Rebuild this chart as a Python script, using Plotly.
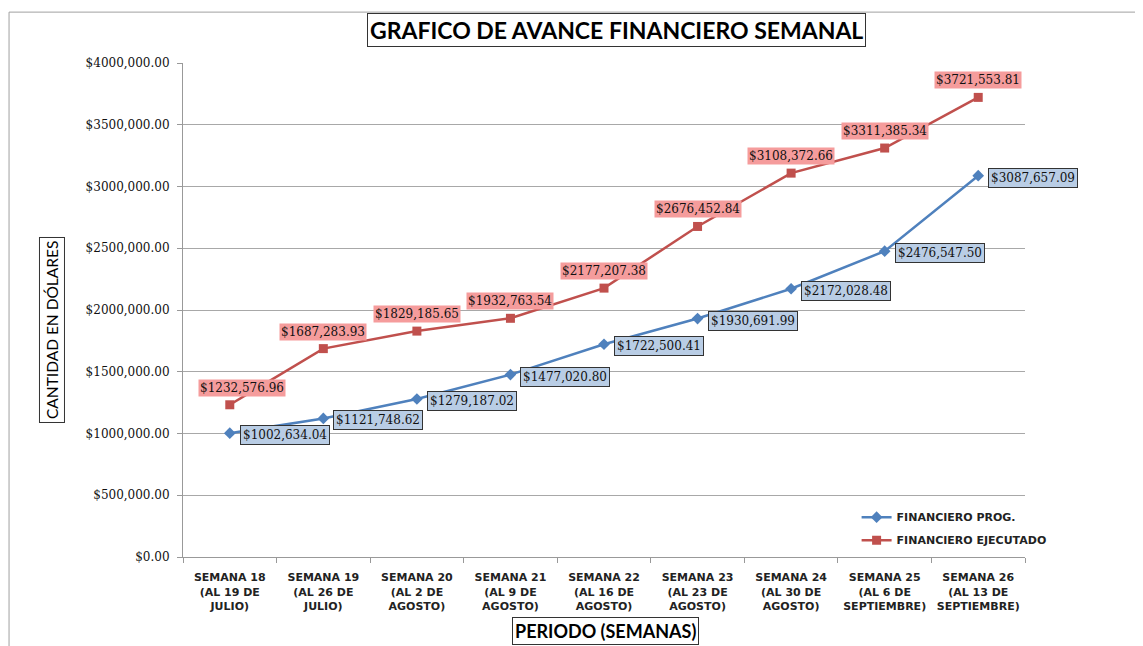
import plotly.graph_objects as go

categories = [
    "SEMANA 18<br>(AL 19 DE<br>JULIO)",
    "SEMANA 19<br>(AL 26 DE<br>JULIO)",
    "SEMANA 20<br>(AL 2 DE<br>AGOSTO)",
    "SEMANA 21<br>(AL 9 DE<br>AGOSTO)",
    "SEMANA 22<br>(AL 16 DE<br>AGOSTO)",
    "SEMANA 23<br>(AL 23 DE<br>AGOSTO)",
    "SEMANA 24<br>(AL 30 DE<br>AGOSTO)",
    "SEMANA 25<br>(AL 6 DE<br>SEPTIEMBRE)",
    "SEMANA 26<br>(AL 13 DE<br>SEPTIEMBRE)",
]
prog = [1002634.04, 1121748.62, 1279187.02, 1477020.80, 1722500.41,
        1930691.99, 2172028.48, 2476547.50, 3087657.09]
ejec = [1232576.96, 1687283.93, 1829185.65, 1932763.54, 2177207.38,
        2676452.84, 3108372.66, 3311385.34, 3721553.81]
y_ticks = [0, 500000, 1000000, 1500000, 2000000, 2500000, 3000000, 3500000, 4000000]


def money(v):
    cents = round(v * 100)
    whole, c = divmod(cents, 100)
    if whole >= 1000:
        return f"${whole // 1000},{whole % 1000:03d}.{c:02d}"
    return f"${whole}.{c:02d}"


BLUE = "#4F81BD"
RED = "#C0504D"

fig = go.Figure()
fig.add_trace(go.Scatter(
    x=categories, y=prog, name="FINANCIERO PROG.", mode="lines+markers",
    legendgroup="a",
    line=dict(color=BLUE, width=2.5),
    marker=dict(symbol="diamond", size=9, color=BLUE),
))
fig.add_trace(go.Scatter(
    x=categories, y=ejec, name="FINANCIERO EJECUTADO", mode="lines+markers",
    legendgroup="b",
    line=dict(color=RED, width=2.5),
    marker=dict(symbol="square", size=9, color=RED),
))

label_font = dict(family="DejaVu Serif", size=12, color="#111")
for i, (c, v) in enumerate(zip(categories, ejec)):
    fig.add_annotation(x=c, y=v, text=money(v), showarrow=False,
                       xanchor="center", yanchor="middle", yshift=17,
                       xshift=12 if i == 0 else 0,
                       bgcolor="#F59C9C", font=label_font, borderpad=1)
for c, v in zip(categories, prog):
    fig.add_annotation(x=c, y=v, text=money(v), showarrow=False,
                       xanchor="left", yanchor="middle", xshift=10, yshift=-2,
                       bgcolor="#B9CDE5", bordercolor="#333", borderwidth=1,
                       font=label_font, borderpad=2)

# title and axis titles as boxed annotations
fig.add_annotation(xref="paper", yref="paper", x=0.515, y=1.067,
                   xanchor="center", yanchor="middle",
                   text="<b>GRAFICO DE AVANCE FINANCIERO SEMANAL</b>", showarrow=False,
                   font=dict(family="Lato", size=23, color="#000"),
                   bordercolor="#333", borderwidth=1, borderpad=2, bgcolor="white")
fig.add_annotation(xref="paper", yref="paper", x=-0.1556, y=0.4595, textangle=-90,
                   xanchor="center", yanchor="middle",
                   text="CANTIDAD EN DÓLARES", showarrow=False,
                   font=dict(family="Lato", size=15.5, color="#000"),
                   bordercolor="#333", borderwidth=1, borderpad=3, bgcolor="white")
fig.add_annotation(xref="paper", yref="paper", x=0.502, y=-0.1498,
                   xanchor="center", yanchor="middle",
                   text="<b>PERIODO (SEMANAS)</b>", showarrow=False,
                   font=dict(family="Lato", size=18, color="#000"),
                   bordercolor="#333", borderwidth=1, borderpad=2, bgcolor="white")

# outer chart border
fig.add_shape(type="rect", xref="paper", yref="paper",
              x0=-0.2066, y0=-0.2, x1=1.2, y1=1.103,
              line=dict(color="#A0A0A0", width=1), layer="below")

fig.update_layout(
    width=1135, height=638,
    margin=dict(l=175, r=118, t=55, b=89),
    paper_bgcolor="white", plot_bgcolor="white",
    showlegend=True,
    legend=dict(x=0.80, y=0.11, xanchor="left", yanchor="top",
                bgcolor="rgba(0,0,0,0)", tracegroupgap=4,
                font=dict(family="DejaVu Sans", size=11, color="#222", weight="bold"),
                itemwidth=30),
    xaxis=dict(
        type="category", tickson="boundaries", ticks="outside", ticklen=5,
        tickcolor="#999", showline=True, linecolor="#999", linewidth=1,
        showgrid=False, ticklabelstandoff=10,
        tickfont=dict(family="DejaVu Sans", size=11, color="#222", weight="bold"),
        range=[-0.5, 8.5],
    ),
    yaxis=dict(
        range=[0, 4000000], tickvals=y_ticks, ticktext=[money(v) for v in y_ticks],
        ticks="outside", ticklen=5, tickcolor="#999", ticklabelstandoff=5,
        showline=True, linecolor="#999", linewidth=1,
        showgrid=True, gridcolor="#A8A8A8", gridwidth=1, zeroline=False,
        tickfont=dict(family="DejaVu Serif", size=12, color="#111"),
    ),
)

fig.write_html("out.html")
